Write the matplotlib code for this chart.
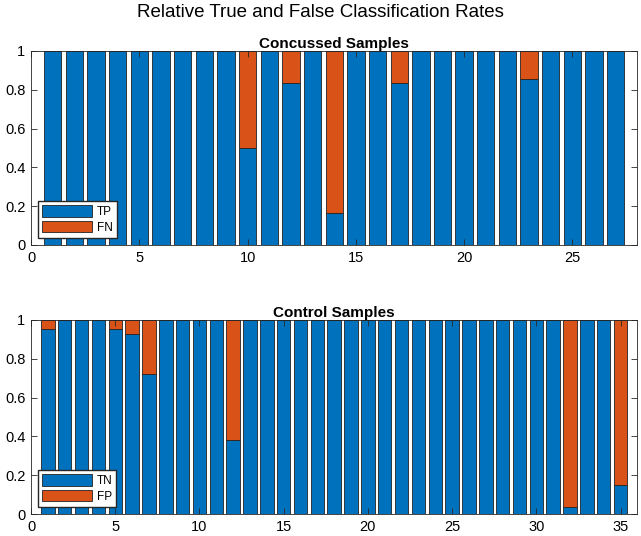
import matplotlib
matplotlib.use("Agg")
import matplotlib.pyplot as plt
import numpy as np

plt.rcParams["font.family"] = ["Liberation Sans", "DejaVu Sans"]

# concussed samples: fraction true positive per sample
CONC_TP = [1, 1, 1, 1, 1, 1, 1, 1, 1, 0.5, 1, 0.833, 1, 0.167, 1, 1, 0.833,
           1, 1, 1, 1, 1, 0.857, 1, 1, 1, 1]
# control samples: fraction true negative per sample
CTRL_TN = [0.952, 1, 1, 1, 0.952, 0.926, 0.72, 1, 1, 1, 1, 0.381, 1, 1, 1,
           1, 1, 1, 1, 1, 1, 1, 1, 1, 1, 1, 1, 1, 1, 1, 1, 0.034, 1, 1, 0.149]

BLUE, ORANGE = "#0072BD", "#D95319"

fig = plt.figure(figsize=(6.41, 5.36), dpi=100)
fig.text(0.5, 0.977, "Relative True and False Classification Rates",
         ha="center", va="center", fontsize=13.5)

panels = [
    ([0.0484, 0.543, 0.946, 0.362], CONC_TP, "Concussed Samples", ("TP", "FN"),
     np.arange(0, 30, 5)),
    ([0.0484, 0.041, 0.946, 0.362], CTRL_TN, "Control Samples", ("TN", "FP"),
     np.arange(0, 40, 5)),
]

for rect, vals, title, labels, xt in panels:
    ax = fig.add_axes(rect)
    vals = np.array(vals)
    x = np.arange(1, len(vals) + 1)
    ax.bar(x, vals, 0.8, color=BLUE, edgecolor="#222222", lw=0.6,
           label=labels[0])
    ax.bar(x, 1 - vals, 0.8, bottom=vals, color=ORANGE, edgecolor="#222222",
           lw=0.6, label=labels[1])
    ax.set_xlim(0, len(vals) + 1)
    ax.set_ylim(0, 1)
    ax.set_xticks(xt)
    ax.set_yticks([0, 0.2, 0.4, 0.6, 0.8, 1])
    ax.set_yticklabels(["0", "0.2", "0.4", "0.6", "0.8", "1"])
    ax.tick_params(direction="in", top=True, right=True, labelsize=10.5,
                   length=4, width=0.6, color="#262626", pad=4)
    for s in ax.spines.values():
        s.set_linewidth(0.6)
        s.set_color("#262626")
    ax.set_title(title, fontsize=11, fontweight="bold", pad=2)
    ax.legend(loc="lower left", fontsize=8.5, handlelength=4.2,
              handleheight=1.1, fancybox=False, edgecolor="#262626",
              framealpha=1, borderpad=0.35, labelspacing=0.25,
              handletextpad=0.4, borderaxespad=0.6)

fig.savefig("out.png", dpi=100)
